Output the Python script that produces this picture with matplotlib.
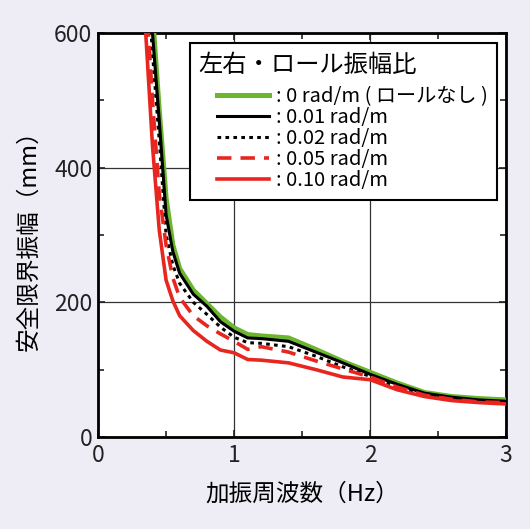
import numpy as np
import matplotlib
matplotlib.use('Agg')
import matplotlib.pyplot as plt
from matplotlib.ticker import MultipleLocator
from matplotlib.offsetbox import HPacker, DrawingArea

plt.rcParams['font.family'] = ['Noto Sans CJK JP', 'DejaVu Sans']

# 加振周波数 (Hz)
freq = [0.3, 0.4, 0.45, 0.5, 0.55, 0.6, 0.7, 0.8, 0.9, 1.0, 1.1, 1.2,
        1.4, 1.6, 1.8, 2.0, 2.2, 2.4, 2.6, 2.8, 3.0]

# 安全限界振幅 (mm) for each roll ratio
amp_000 = [920, 629, 485, 355, 285, 250, 218, 198, 178, 162, 152, 150,
           147, 130, 112, 96, 80, 66, 60, 57, 55]
amp_001 = [890, 600, 470, 330, 275, 243, 212, 194, 171, 157, 147, 146,
           142, 126, 110, 93, 78, 65, 59, 55, 53]
amp_002 = [860, 570, 440, 300, 255, 228, 200, 182, 163, 148, 140, 139,
           134, 120, 104, 90, 75, 63, 57, 54, 52]
amp_005 = [830, 500, 361, 285, 236, 207, 180, 165, 153, 142, 130, 134,
           126, 113, 101, 89, 74, 62, 56, 52, 51]
amp_010 = [770, 433, 307, 233, 202, 180, 158, 142, 129, 125, 115, 114,
           110, 100, 89, 85, 70, 60, 54, 51, 49]

labels = [': 0 rad/m ( ロールなし )', ': 0.01 rad/m', ': 0.02 rad/m',
          ': 0.05 rad/m', ': 0.10 rad/m']

green = '#6cb52f'
red = '#e8261f'

fig = plt.figure(figsize=(5.30, 5.29), dpi=100, facecolor='#eeedf6')
ax = fig.add_axes([0.185, 0.174, 0.770, 0.764])
ax.set_facecolor('white')

ax.plot(freq, amp_000, color=green, lw=3.6, label=labels[0], zorder=3)
ax.plot(freq, amp_001, color='black', lw=2.2, label=labels[1], zorder=4)
ax.plot(freq, amp_002, color='black', lw=2.2, ls=(0, (1.2, 1.4)), label=labels[2], zorder=5)
ax.plot(freq, amp_005, color=red, lw=2.6, ls=(0, (4, 2.5)), label=labels[3], zorder=6)
ax.plot(freq, amp_010, color=red, lw=2.6, label=labels[4], zorder=7)

ax.set_xlim(0, 3)
ax.set_ylim(0, 600)
ax.xaxis.set_major_locator(MultipleLocator(1))
ax.xaxis.set_minor_locator(MultipleLocator(0.5))
ax.yaxis.set_major_locator(MultipleLocator(200))
ax.yaxis.set_minor_locator(MultipleLocator(100))
ax.tick_params(which='both', direction='in', top=True, right=True,
               width=1.2, labelsize=16.5, colors='#222222')
ax.tick_params(which='major', length=5)
ax.tick_params(which='minor', length=4)
ax.tick_params(axis='x', pad=5)
ax.tick_params(axis='y', pad=4)
ax.grid(True, which='major', color='#333333', lw=0.9)
ax.set_axisbelow(True)
for s in ax.spines.values():
    s.set_linewidth(2.0)

ax.set_xlabel('加振周波数（Hz）', fontsize=17, labelpad=11)
ax.set_ylabel('安全限界振幅（mm）', fontsize=17, labelpad=10)

leg = ax.legend(title='左右・ロール振幅比', loc='upper right',
                bbox_to_anchor=(0.978, 0.975), borderaxespad=0,
                fontsize=14.5, title_fontsize=17.5, fancybox=False,
                framealpha=1, edgecolor='black', handlelength=2.6,
                handletextpad=0.35, labelspacing=0.0, borderpad=0.45)
leg._legend_box.align = 'left'
# indent the entries under the title
hb = leg._legend_handle_box
indent = HPacker(pad=0, sep=0, children=[DrawingArea(13, 1), hb])
leg._legend_box._children[1] = indent
leg._legend_box.sep = 6
leg._legend_box.set_figure(fig)
leg.get_frame().set_linewidth(1.5)
leg.set_zorder(10)

fig.savefig('out.png', dpi=100, facecolor=fig.get_facecolor())
